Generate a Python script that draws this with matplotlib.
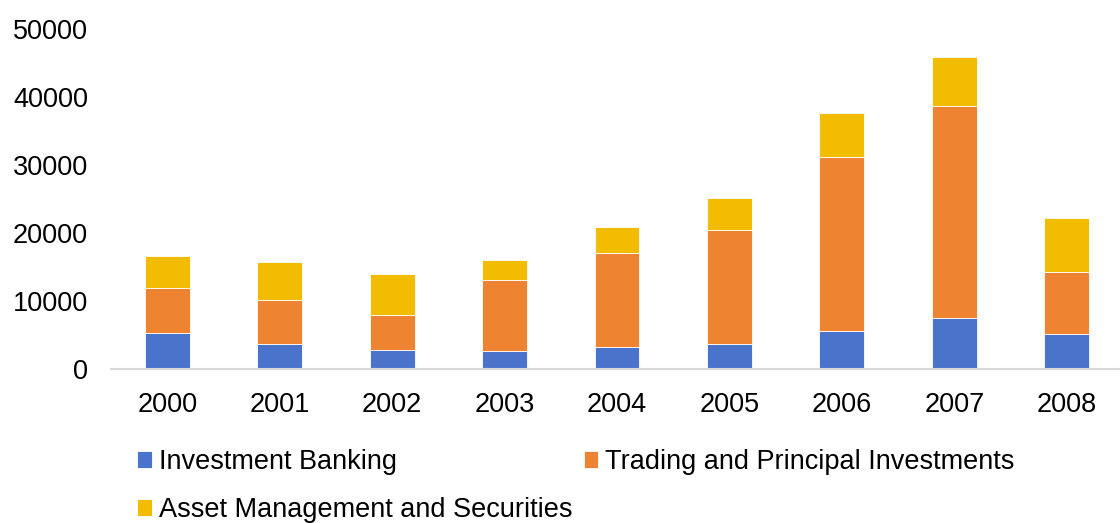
import matplotlib
matplotlib.use("Agg")
import matplotlib.pyplot as plt
import numpy as np

years = ["2000", "2001", "2002", "2003", "2004", "2005", "2006", "2007", "2008"]
investment_banking = [5340, 3720, 2790, 2700, 3280, 3630, 5640, 7500, 5150]
trading_principal = [6620, 6430, 5200, 10340, 13780, 16860, 25490, 31220, 9070]
asset_management = [4610, 5590, 5930, 2940, 3820, 4700, 6470, 7210, 7940]
series_names = ["Investment Banking", "Trading and Principal Investments",
                "Asset Management and Securities"]
y_ticks = [0, 10000, 20000, 30000, 40000, 50000]

colors = ["#4A74CC", "#EE8332", "#F2BC02"]
text_color = "#000000"

plt.rcParams['font.family'] = ['Liberation Sans', 'DejaVu Sans']

fig = plt.figure(figsize=(11.2, 5.23), dpi=100)
ax = fig.add_axes([111 / 1120, 1 - 369 / 523, (1123 - 111) / 1120, (369 - 29) / 523])

x = np.arange(len(years))
w = 0.4
ib = np.array(investment_banking)
tr = np.array(trading_principal)
am = np.array(asset_management)
b1 = ax.bar(x, ib, w, color=colors[0], edgecolor="white", linewidth=0.6, label=series_names[0])
b2 = ax.bar(x, tr, w, bottom=ib, color=colors[1], edgecolor="white", linewidth=0.6, label=series_names[1])
b3 = ax.bar(x, am, w, bottom=ib + tr, color=colors[2], edgecolor="white", linewidth=0.6, label=series_names[2])

ax.set_xlim(-0.5, 8.5)
ax.set_ylim(0, 50000)
ax.set_yticks(y_ticks)
ax.set_yticklabels([str(v) for v in y_ticks])
ax.set_xticks(x)
ax.set_xticklabels(years)
ax.tick_params(axis="both", length=0, labelsize=19.5, colors=text_color)
ax.tick_params(axis="y", pad=16.5)
ax.tick_params(axis="x", pad=16.4)
for s in ["top", "right", "left"]:
    ax.spines[s].set_visible(False)
ax.spines["bottom"].set_color("#D9D9D9")
ax.spines["bottom"].set_linewidth(1.5)

leg = fig.legend([b1, b3, b2], [series_names[0], series_names[2], series_names[1]],
                 ncol=2, loc="upper left", bbox_to_anchor=(137 / 1120, 1 - 449 / 523),
                 frameon=False, fontsize=19.5, handlelength=0.55, handleheight=0.55,
                 handletextpad=0.25, columnspacing=0.42, labelspacing=0.82,
                 borderpad=0, borderaxespad=0)
for t in leg.get_texts():
    t.set_color(text_color)

fig.savefig("out.png", dpi=100)
